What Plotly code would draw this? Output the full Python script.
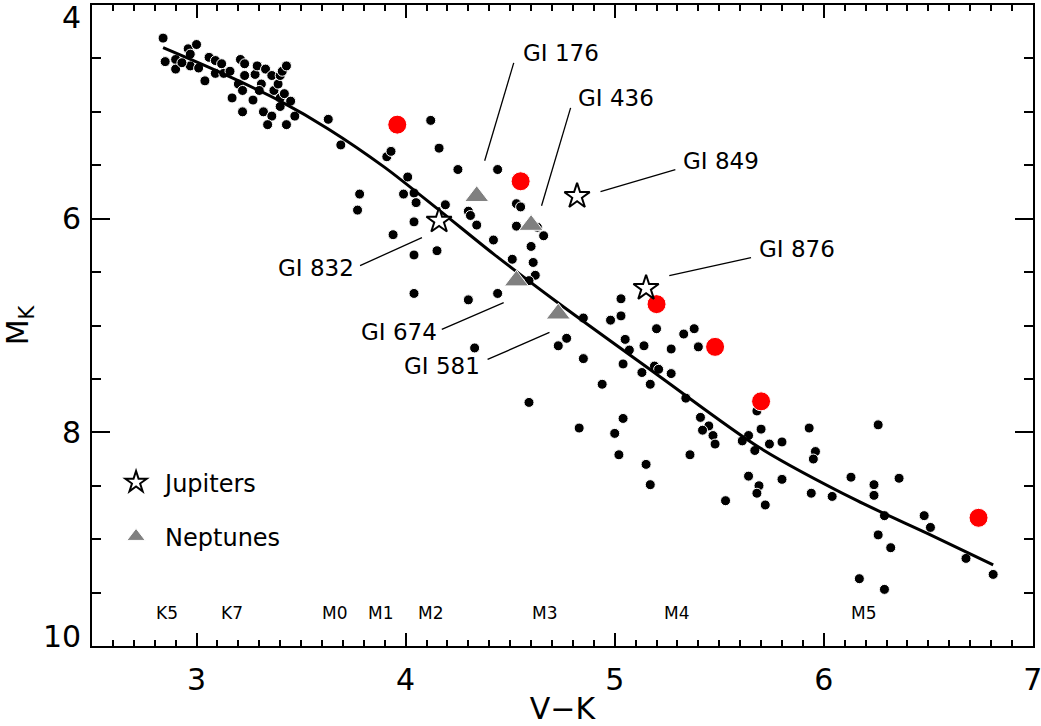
import plotly.graph_objects as go

# ---------------- data ----------------
DOT_X = [2.84, 2.85, 2.90, 2.90, 2.96, 3.00, 2.97, 2.97, 2.93, 3.01, 3.04, 3.06, 3.09, 3.09,
         3.12, 3.13, 3.16, 3.21, 3.23, 3.23, 3.20, 3.22, 3.17, 3.22, 3.27, 3.28, 3.29, 3.33,
         3.31, 3.30, 3.32, 3.36, 3.34, 3.36, 3.37, 3.39, 3.40, 3.41, 3.43, 3.40, 3.42, 3.40,
         3.45, 3.47, 3.43,
         3.63, 3.69, 3.91, 3.93, 4.01, 3.99, 4.04, 4.05, 3.78, 3.77, 4.04, 3.94, 4.04, 4.04,
         4.12, 4.16, 4.25, 4.44, 4.19, 4.30, 4.31, 4.34, 4.42, 4.15, 4.53, 4.55, 4.53, 4.63,
         4.66, 4.60, 4.61, 4.62, 4.59, 4.51, 4.30, 4.44, 4.33, 4.59, 4.73, 4.77, 4.85, 4.85,
         4.94, 4.98, 5.03, 5.03, 5.05, 5.07, 5.04, 5.14, 5.13, 5.17, 5.19, 5.21, 5.20, 5.27,
         5.33, 5.38, 5.40, 5.27, 5.34, 4.83, 5.04, 5.00, 5.02, 5.15, 5.17, 5.41, 5.45, 5.42,
         5.47, 5.48, 5.36, 5.53, 5.64, 5.61, 5.67, 5.70, 5.74, 5.80, 5.93, 5.96, 5.95, 5.64,
         5.69, 5.68, 5.72, 5.80, 5.94, 6.04, 6.13, 5.68, 6.26, 6.24, 6.24, 6.36, 6.29, 6.26,
         6.32, 6.17, 6.29, 6.48, 6.51, 6.68, 6.81]
DOT_Y = [4.31, 4.53, 4.51, 4.60, 4.41, 4.37, 4.46, 4.57, 4.54, 4.59, 4.71, 4.49, 4.52, 4.64,
         4.55, 4.64, 4.62, 4.51, 4.55, 4.66, 4.74, 4.80, 4.87, 5.00, 4.89, 4.65, 4.57, 4.60,
         4.74, 4.80, 5.00, 5.04, 5.12, 4.66, 4.80, 4.74, 4.66, 4.62, 4.57, 4.87, 4.83, 4.95,
         4.90, 5.04, 5.12,
         5.07, 5.31, 5.42, 5.37, 5.61, 5.77, 5.76, 5.85, 5.77, 5.92, 6.03, 6.15, 6.34, 6.70,
         5.08, 5.34, 5.54, 5.54, 5.87, 5.93, 5.97, 6.06, 6.20, 6.30, 5.86, 5.89, 6.07, 6.08,
         6.16, 6.26, 6.41, 6.53, 6.58, 6.38, 6.76, 6.70, 7.21, 7.72, 7.19, 7.12, 6.93, 7.31,
         7.55, 6.95, 6.75, 6.91, 7.13, 7.23, 7.36, 7.19, 7.44, 7.55, 7.38, 7.41, 7.03, 7.22,
         7.08, 7.03, 7.20, 7.45, 7.68, 7.96, 7.87, 8.01, 8.21, 8.30, 8.49, 7.86, 7.94, 7.98,
         8.03, 8.11, 8.21, 8.64, 8.03, 8.08, 8.17, 7.97, 8.11, 8.09, 7.96, 8.18, 8.25, 8.41,
         8.50, 8.57, 8.68, 8.44, 8.57, 8.60, 8.42, 7.80, 7.93, 8.49, 8.59, 8.43, 8.78, 8.96,
         9.08, 9.37, 9.47, 8.78, 8.89, 9.18, 9.33]

RED_X = [3.96, 4.55, 5.20, 5.48, 5.70, 6.74]
RED_Y = [5.12, 5.65, 6.80, 7.20, 7.71, 8.80]

JUP_NAMES = ["GI 849", "GI 876", "GI 832"]
JUP_X = [4.82, 5.15, 4.16]
JUP_Y = [5.79, 6.65, 6.02]

NEP_NAMES = ["GI 176", "GI 436", "GI 674", "GI 581"]
NEP_X = [4.34, 4.60, 4.53, 4.73]
NEP_Y = [5.79, 6.06, 6.58, 6.89]

CURVE_X = [2.84, 3.10, 3.40, 3.63, 3.90, 4.16, 4.42, 4.73, 5.21, 5.69, 6.16, 6.50, 6.81]
CURVE_Y = [4.40, 4.62, 4.90, 5.16, 5.52, 5.92, 6.33, 6.79, 7.47, 8.14, 8.64, 8.95, 9.24]

SPT_LABELS = ["K5", "K7", "M0", "M1", "M2", "M3", "M4", "M5"]
SPT_X = [2.86, 3.17, 3.66, 3.88, 4.12, 4.665, 5.295, 6.19]

X_TICKS = [3, 4, 5, 6, 7]
Y_TICKS = [4, 6, 8, 10]

# ---------------- layout helpers (positions / styles) ----------------
FONT = "DejaVu Sans"
SPT_ROW_Y = 9.69

# callouts: name, text anchor (x, y, xanchor), line start (x0,y0) -> end (x1,y1)
CALLOUTS = [
    ("GI 176", 4.550, 4.449, "left", 4.378, 5.458, 4.517, 4.542),
    ("GI 436", 4.817, 4.869, "left", 4.650, 5.879, 4.789, 4.963),
    ("GI 849", 5.318, 5.458, "left", 4.932, 5.748, 5.290, 5.542),
    ("GI 876", 5.681, 6.280, "left", 5.261, 6.533, 5.652, 6.364),
    ("GI 832", 3.763, 6.458, "right", 3.782, 6.439, 4.078, 6.178),
    ("GI 674", 4.159, 7.065, "right", 4.173, 7.037, 4.469, 6.785),
    ("GI 581", 4.364, 7.383, "right", 4.392, 7.318, 4.688, 7.065),
]

fig = go.Figure()

fig.add_trace(go.Scatter(
    x=DOT_X, y=DOT_Y, mode="markers", showlegend=False,
    marker=dict(color="black", size=10, line=dict(color="white", width=1)),
))
fig.add_trace(go.Scatter(
    x=CURVE_X, y=CURVE_Y, mode="lines", showlegend=False,
    line=dict(color="black", width=3, shape="spline", smoothing=0.8),
))
fig.add_trace(go.Scatter(
    x=RED_X, y=RED_Y, mode="markers", showlegend=False,
    marker=dict(color="#ff0000", size=19, line=dict(color="white", width=1)),
))
fig.add_trace(go.Scatter(
    x=JUP_X, y=JUP_Y, mode="markers", name="Jupiters", text=JUP_NAMES,
    legendgroup="j",
    marker=dict(symbol="star", color="white", size=19, line=dict(color="black", width=2)),
))
fig.add_trace(go.Scatter(
    x=NEP_X, y=NEP_Y, mode="markers", name="Neptunes", text=NEP_NAMES,
    legendgroup="n",
    marker=dict(symbol="triangle-up", color="#808080", size=21, line=dict(color="white", width=1)),
))

shapes = []
annotations = []
for name, tx, ty, anc, x0, y0, x1, y1 in CALLOUTS:
    shapes.append(dict(type="line", xref="x", yref="y", x0=x0, y0=y0, x1=x1, y1=y1,
                       line=dict(color="black", width=1.3)))
    annotations.append(dict(x=tx, y=ty, xref="x", yref="y", text=name, showarrow=False,
                            xanchor=anc, yanchor="middle",
                            font=dict(family=FONT, size=23, color="black")))

for lab, sx in zip(SPT_LABELS, SPT_X):
    annotations.append(dict(x=sx, y=SPT_ROW_Y, xref="x", yref="y", text=lab, showarrow=False,
                            xanchor="center", yanchor="middle",
                            font=dict(family=FONT, size=17, color="black")))

for v in Y_TICKS:
    shift = -12 if v == Y_TICKS[0] else (10 if v == Y_TICKS[-1] else 0)
    annotations.append(dict(x=0, y=v, xref="paper", yref="y", text=str(v), showarrow=False,
                            xanchor="right", yanchor="middle", xshift=-9, yshift=shift,
                            font=dict(family=FONT, size=30, color="black")))

fig.update_layout(
    template="none",
    width=1041, height=726,
    margin=dict(l=92, r=8, t=5, b=80, autoexpand=False),
    paper_bgcolor="white", plot_bgcolor="white",
    font=dict(family=FONT, color="black"),
    shapes=shapes, annotations=annotations,
    legend=dict(x=0.016, y=0.29, xanchor="left", yanchor="top",
                bgcolor="rgba(0,0,0,0)", font=dict(family=FONT, size=24),
                tracegroupgap=20, traceorder="grouped", itemwidth=48),
    xaxis=dict(range=[2.5, 7.0005], tickvals=X_TICKS, ticks="inside", ticklen=13, tickwidth=2,
               tickcolor="black", showline=True, linewidth=2, linecolor="black",
               mirror="allticks", showgrid=False, zeroline=False, automargin=False,
               tickfont=dict(family=FONT, size=30), ticklabelstandoff=6,
               ticklabeloverflow="allow",
               minor=dict(dtick=0.1, ticks="inside", ticklen=6, tickwidth=1.5, tickcolor="black",
                          showgrid=False),
               title=dict(text="V\u2212K", font=dict(family=FONT, size=30), standoff=12)),
    yaxis=dict(range=[10, 4], tickvals=Y_TICKS, ticks="inside", ticklen=18, tickwidth=2,
               tickcolor="black", showline=True, linewidth=2, linecolor="black",
               mirror="allticks", showgrid=False, zeroline=False, showticklabels=False,
               automargin=False,
               minor=dict(dtick=0.5, ticks="inside", ticklen=9, tickwidth=1.5, tickcolor="black",
                          showgrid=False),
               title=dict(text="M<sub>K</sub>", font=dict(family=FONT, size=30), standoff=55)),
)

fig.write_html("out.html",
               config={"displayModeBar": False},
               post_script="document.body.style.margin='0px';document.body.style.overflow='hidden';")
